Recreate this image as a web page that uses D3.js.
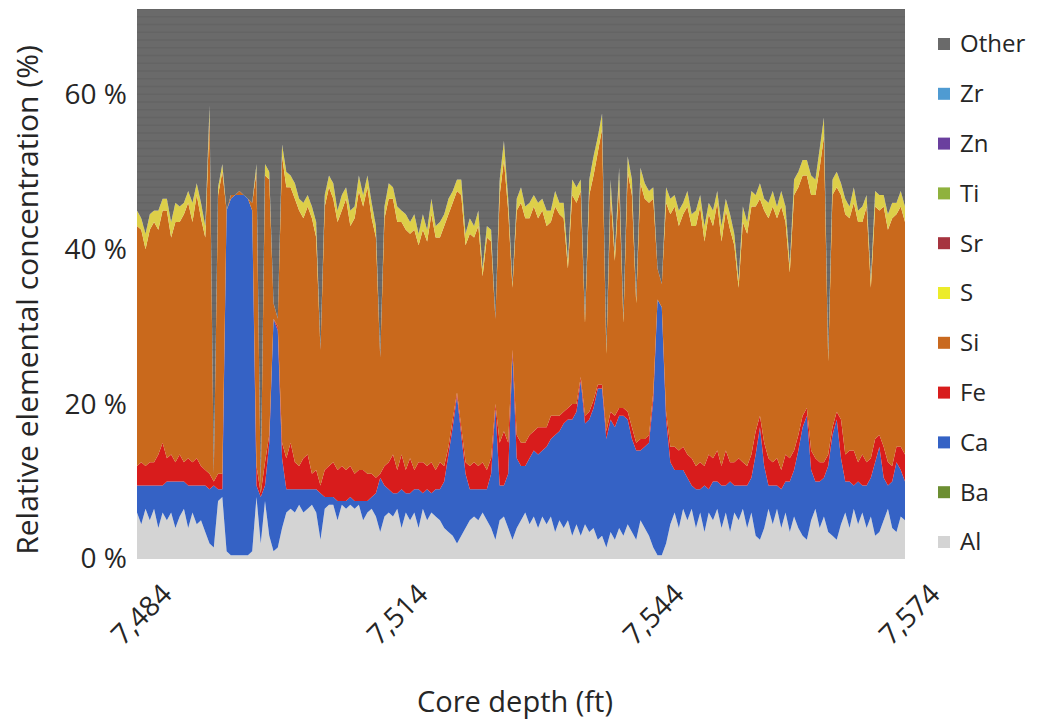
<!DOCTYPE html>
<html>
<head>
<meta charset="utf-8">
<script src="https://cdn.jsdelivr.net/npm/d3@7"></script>
<style>
  body { margin: 0; background: #fff; }
  text { font-family: "Open Sans", sans-serif; fill: #262626; }
</style>
</head>
<body>
<svg id="chart"></svg>
<script>
const width = 1037, height = 726;
const margin = { top: 9, right: 132, bottom: 167, left: 137 };

// Core depth samples (ft), one every 0.5 ft
const depths = d3.range(7484, 7574.01, 0.5);

// Element concentrations (%), bottom of the stack first
const al = [
  6, 4.5, 6.5, 5, 6.5, 4, 6, 5, 6, 4,
  5.5, 6.5, 4, 6, 4.5, 5, 3.5, 2, 1.5, 7.5,
  8, 1, 0.5, 0.5, 0.5, 0.5, 0.5, 1, 8, 2,
  7.5, 3, 1, 1.5, 4, 6, 6.5, 6, 7, 6,
  6.5, 7, 6, 2.5, 6.5, 7, 7, 5, 7, 6.5,
  7, 6.5, 7, 5, 6, 6.5, 5.5, 3.5, 5.5, 6,
  5.5, 6.5, 4, 6, 5, 6, 4, 6.5, 5, 6,
  5.5, 5, 4, 3.5, 3, 2, 3, 4, 5, 5.5,
  5, 6, 5, 4, 2.5, 5, 5.5, 4, 2.5, 4,
  5, 6, 4.5, 5.5, 4, 5.5, 4.5, 5.5, 3.5, 5,
  4, 5, 3, 4.5, 3, 4.5, 3.5, 4, 2.5, 3,
  1.5, 3.5, 2.5, 4, 3, 4.5, 3.5, 2.5, 5, 4,
  3, 1.5, 0.5, 0.5, 2, 4.5, 6, 4, 6.5, 5,
  6.5, 4, 6, 3.5, 6, 5, 6.5, 4, 6, 3.5,
  6, 5, 6.5, 4, 6, 3, 2.5, 4, 6.5, 4.5,
  6.5, 4, 6, 3.5, 5.5, 4, 3, 2.5, 5, 6.5,
  4, 5.5, 3.5, 3, 2.5, 4.5, 6, 4, 6.5, 4.5,
  6, 4, 5.5, 3, 3.5, 5, 6.5, 4, 3.5, 5.5,
  5
];
const ca = [
  3.5, 5, 3, 4.5, 3, 5.5, 3.5, 5, 4, 6,
  4.5, 3.5, 5.5, 3.5, 5, 4.5, 6, 7, 8, 1.5,
  1, 44, 46, 46.5, 46.5, 46.5, 46, 44, 1.5, 6,
  2, 12, 30, 28, 9, 3, 2.5, 3, 2, 3,
  2.5, 2, 3, 6, 1.5, 1, 1, 2.5, 0.5, 1,
  1, 1, 0.5, 2.5, 1.5, 1.5, 3, 7, 4, 3,
  3, 2, 5, 2.5, 3.5, 3, 5, 2, 4, 2.5,
  3.5, 4, 6, 10, 14, 19, 13, 7, 4, 3.5,
  4, 3, 4, 7, 17, 4.5, 4, 7, 24, 9,
  7, 6, 8.5, 8.5, 9.5, 8.5, 10, 10, 12.5, 11.5,
  13.5, 13, 15, 14.5, 20, 13, 14.5, 15.5, 19.5, 19,
  14, 14.5, 14.5, 14.5, 15.5, 13.5, 12, 11.5, 9, 10.5,
  12, 19, 33, 32, 16, 8, 5.5, 7.5, 5, 5.5,
  3, 5, 3, 6, 3, 5, 3.5, 5.5, 3.5, 6.5,
  3.5, 4.5, 3, 5.5, 4.5, 10.5, 14.5, 8, 3, 5,
  3, 5, 4, 6.5, 6, 10, 14, 16, 6.5, 3.5,
  6, 5, 8.5, 13, 15.5, 8.5, 4, 6, 3, 5.5,
  3.5, 5.5, 5, 9.5, 11, 5.5, 3, 6, 9, 6,
  5
];
const fe = [
  2.5, 3, 2.5, 3, 3, 4, 5.5, 3, 3.5, 2.5,
  3.5, 2.5, 3.5, 3, 3.5, 2.5, 2, 2, 0.5, 2,
  2, 0, 0, 0, 0, 0, 0, 0, 2.5, 0.5,
  3, 1, 0, 0.5, 2, 4, 6, 3.5, 3, 4,
  4.5, 2, 2.5, 1, 3.5, 4, 4.5, 4, 4.5, 4,
  4, 3.5, 4, 4, 3.5, 3, 2, 0.5, 2.5, 3.5,
  5, 3, 4.5, 3, 4.5, 2.5, 3.5, 4, 3, 4,
  2.5, 3.5, 2, 1, 1, 0.5, 1, 1.5, 3, 3.5,
  3, 3.5, 2.5, 2, 0.5, 5.5, 7, 4, 0.5, 3,
  3, 3, 3, 2.5, 3.5, 3, 2.5, 3, 2.5, 2,
  1.5, 1.5, 2, 1, 0.5, 1, 1, 1, 0.5, 0.5,
  1, 1, 1.5, 1, 1, 1, 1.5, 1, 1.5, 1,
  1, 1, 0, 0, 1, 2, 3, 2.5, 3, 3,
  3.5, 3, 3.5, 2.5, 4.5, 3, 4, 2.5, 4.5, 2.5,
  3, 3.5, 3, 2.5, 3, 3, 1.5, 3, 3.5, 3,
  3.5, 2.5, 3.5, 3, 2.5, 2, 1.5, 1, 2.5, 3,
  2.5, 2, 1.5, 1, 1, 5, 3.5, 4, 4.5, 2.5,
  4, 3, 2.5, 3, 1.5, 4, 3, 2, 2, 3,
  3.5
];
const si = [
  31, 30, 28, 30, 31, 29, 30, 32, 28, 31,
  30, 32, 33, 31, 34, 32, 30, 46, 1, 36,
  39, 0, 0.5, 0, 0.5, 0, 0, 1, 38, 1,
  37, 33, 2, 1, 37, 35, 33, 34, 33, 31,
  32, 33, 30, 17.5, 34, 36, 34, 32, 33, 35,
  31, 33, 36, 34, 37, 33, 31, 15, 32, 34,
  33, 32, 30, 31, 29, 31, 28, 30, 29, 32,
  30, 29, 31, 30, 28, 26, 30, 28, 30, 29,
  31, 24, 30, 28, 11, 32, 35, 30, 8, 29,
  31, 29, 28, 29, 27, 28, 26, 25, 27, 26,
  25, 18, 27, 26, 24, 12, 28, 29, 30, 33,
  10, 28, 20, 29, 11, 31, 30, 18, 33, 31,
  30, 25, 4, 3, 27, 30, 31, 29, 30, 32,
  30, 31, 33, 29, 31, 30, 32, 29, 31, 30,
  28, 22, 31, 30, 32, 29, 28, 30, 31, 33,
  31, 34, 30, 24, 33, 32, 31, 30, 33, 34,
  38, 42, 12, 30, 29, 29, 31, 30, 32, 31,
  30, 33, 22, 30, 29, 31, 30, 32, 30, 31,
  30
];
const s = [
  2, 1.5, 2, 2, 1.5, 2.5, 1.5, 1.5, 2, 2.5,
  2, 1.5, 1.5, 2.5, 1.5, 2, 1.5, 1.5, 0, 1,
  1, 0, 0, 0, 0, 0, 0, 0, 1, 0,
  1.5, 1, 0, 0, 1.5, 2, 1.5, 2, 1.5, 2,
  1.5, 1.5, 2, 0, 1.5, 1.5, 2, 1.5, 2, 1.5,
  2, 1.5, 2, 1.5, 1.5, 2, 1.5, 0, 1.5, 2,
  1.5, 2, 1.5, 2, 1.5, 2, 1.5, 2, 1.5, 2,
  1.5, 2, 1.5, 2, 1.5, 1.5, 2, 1.5, 2, 1.5,
  2, 1, 1.5, 1.5, 0, 2, 2.5, 1.5, 0.5, 1.5,
  2, 1.5, 2, 1.5, 2, 1.5, 2, 1.5, 2, 1.5,
  2, 1, 2, 2, 1.5, 0.5, 2, 2.5, 2, 2,
  0.5, 2, 1, 2, 0.5, 2, 2, 0.5, 2, 2,
  1.5, 1.5, 0, 0, 2, 2, 1.5, 2, 1.5, 2,
  1.5, 2, 1.5, 2, 1.5, 2, 1.5, 2, 1.5, 2,
  1.5, 1, 2, 1.5, 2, 1.5, 2, 1.5, 2, 2,
  1.5, 2, 2, 1, 2, 2, 2, 2, 2.5, 2,
  2.5, 2.5, 0.5, 2, 2, 1.5, 2, 1.5, 2, 1.5,
  2, 1.5, 1, 2, 2, 1.5, 2, 2, 1.5, 2,
  2
];

const yTicks = [0, 20, 40, 60];
const xTicks = [7484, 7514, 7544, 7574];

// Legend entries, top to bottom
const legendKeys = ["Other", "Zr", "Zn", "Ti", "Sr", "S", "Si", "Fe", "Ca", "Ba", "Al"];
const colors = {
  Other: "#6a6a6a", Zr: "#4f9bd2", Zn: "#6a3f9e", Ti: "#8fb23e", Sr: "#a6343f",
  S: "#ecec2a", Si: "#c9691f", Fe: "#d81c1c", Ca: "#3462c5", Ba: "#6c8e32", Al: "#d4d4d4"
};
// the thin sulphur band reads paler inside the plot than in the legend
const areaColors = Object.assign({}, colors, { S: "#ddcf4a" });

const rows = depths.map((d, i) => {
  const r = { depth: d, Al: al[i], Ca: ca[i], Fe: fe[i], Si: si[i], S: s[i] };
  r.Other = 100 - (r.Al + r.Ca + r.Fe + r.Si + r.S);
  return r;
});

const keys = ["Al", "Ca", "Fe", "Si", "S", "Other"];
const series = d3.stack().keys(keys)(rows);

const svg = d3.select("#chart")
  .attr("width", width)
  .attr("height", height);

const x = d3.scaleLinear()
  .domain([7484, 7574])
  .range([margin.left, width - margin.right]);

const y = d3.scaleLinear()
  .domain([0, 71])
  .range([height - margin.bottom, margin.top]);

const area = d3.area()
  .x(d => x(d.data.depth))
  .y0(d => y(d[0]))
  .y1(d => y(d[1]));

// Clip everything to the plot rectangle
const defs = svg.append("defs");
defs.append("clipPath").attr("id", "plotClip")
  .append("rect")
  .attr("x", margin.left).attr("y", margin.top)
  .attr("width", width - margin.left - margin.right)
  .attr("height", height - margin.top - margin.bottom);

// slight softening, the source picture is a little blurry
defs.append("filter").attr("id", "soft")
  .append("feGaussianBlur").attr("stdDeviation", 0.6);

const plot = svg.append("g").attr("clip-path", "url(#plotClip)");
const layers = plot.append("g").attr("filter", "url(#soft)");

layers.selectAll("path.layer")
  .data(series)
  .enter().append("path")
  .attr("class", "layer")
  .attr("d", area)
  .attr("fill", d => areaColors[d.key]);

// Faint horizontal grid stripes, only visible through the "Other" layer
defs.append("clipPath").attr("id", "otherClip")
  .append("path")
  .attr("d", area(series[series.length - 1]));

plot.append("g")
  .attr("clip-path", "url(#otherClip)")
  .selectAll("line")
  .data(d3.range(1, 72))
  .enter().append("line")
  .attr("x1", margin.left).attr("x2", width - margin.right)
  .attr("y1", d => y(d)).attr("y2", d => y(d))
  .attr("stroke", "#555")
  .attr("stroke-opacity", 0.3)
  .attr("stroke-width", 1.5);

// Y axis
const yAxis = svg.append("g")
  .attr("transform", `translate(${margin.left},0)`)
  .call(d3.axisLeft(y).tickValues(yTicks).tickSize(0).tickPadding(10).tickFormat(d => d + " %"));
yAxis.select(".domain").remove();
yAxis.selectAll("text")
  .style("font-family", "'Open Sans', sans-serif")
  .style("font-size", "28px")
  .attr("fill", "#262626");

// X axis
const xAxis = svg.append("g")
  .attr("transform", `translate(0,${height - margin.bottom})`)
  .call(d3.axisBottom(x).tickValues(xTicks).tickSize(0).tickFormat(d3.format(",")));
xAxis.select(".domain").remove();
xAxis.selectAll("text")
  .style("font-family", "'Open Sans', sans-serif")
  .style("font-size", "28px")
  .attr("fill", "#262626")
  .attr("y", 0)
  .attr("dy", 0)
  .attr("text-anchor", "end")
  .attr("transform", "translate(36,37) rotate(-45)");

// Axis titles
svg.append("text")
  .attr("x", 515)
  .attr("y", 712)
  .attr("text-anchor", "middle")
  .style("font-size", "29px")
  .text("Core depth (ft)");

svg.append("text")
  .attr("transform", "translate(38,300) rotate(-90)")
  .attr("text-anchor", "middle")
  .style("font-size", "30px")
  .text("Relative elemental concentration (%)");

// Legend
const legend = svg.selectAll(".legend")
  .data(legendKeys)
  .enter().append("g")
  .attr("class", "legend")
  .attr("transform", (d, i) => `translate(938,${44 + i * 49.8})`);

legend.append("rect")
  .attr("x", 0).attr("y", -6)
  .attr("width", 12).attr("height", 12)
  .attr("fill", d => colors[d]);

legend.append("text")
  .attr("x", 22)
  .attr("y", 0)
  .attr("dy", "0.35em")
  .style("font-size", "24px")
  .text(d => d);
</script>
</body>
</html>
